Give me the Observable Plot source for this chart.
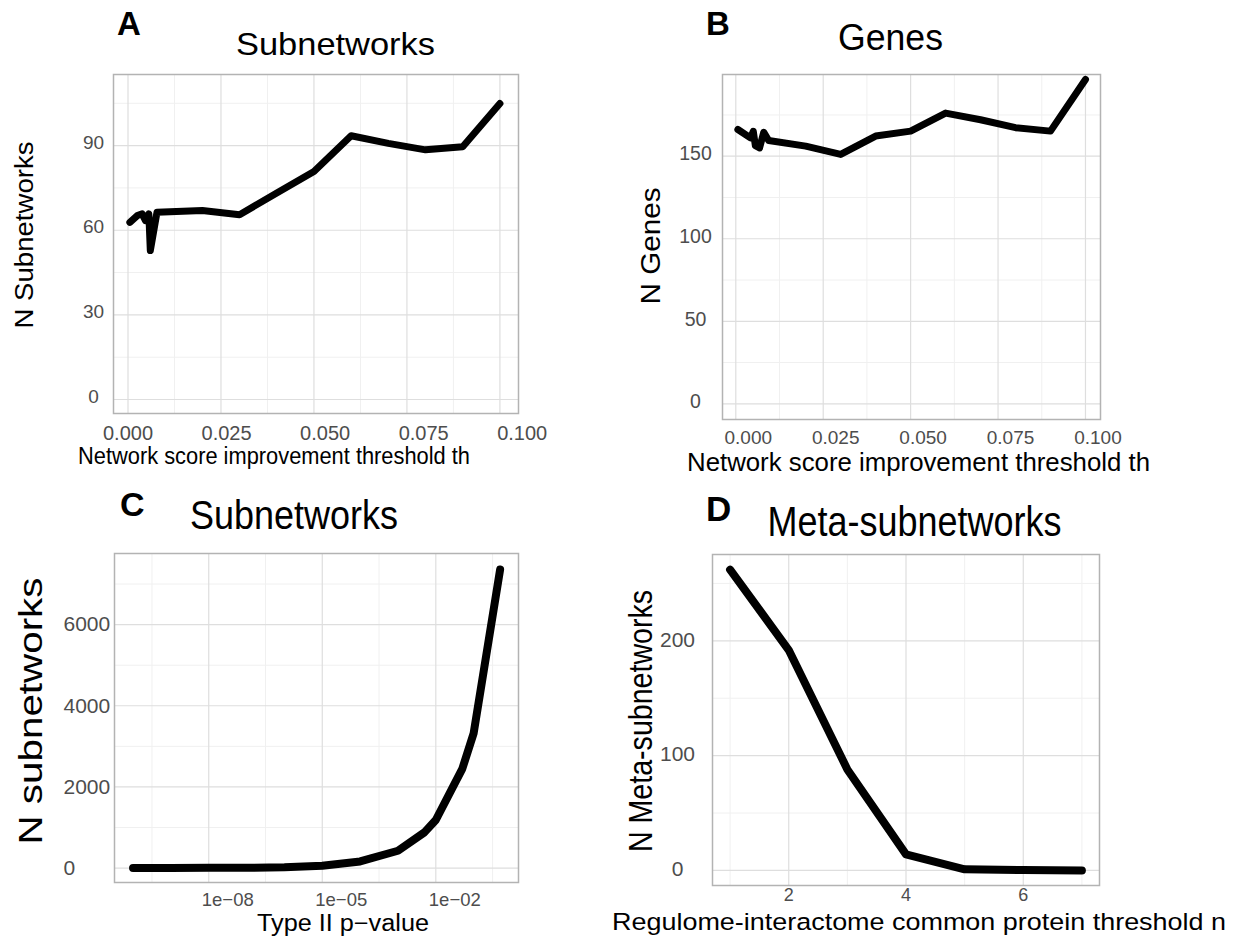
<!DOCTYPE html>
<html><head><meta charset="utf-8">
<script src="https://cdn.jsdelivr.net/npm/d3@7"></script>
<script src="https://cdn.jsdelivr.net/npm/@observablehq/plot@0.6"></script>
<style>
body{margin:0;background:#fff;}
#wrap{position:relative;width:1241px;height:936px;overflow:hidden;background:#fff;font-family:"Liberation Sans",Arial,sans-serif;}
#wrap svg.pp{position:absolute;overflow:visible;}
#overlay{position:absolute;left:0;top:0;}
</style></head><body><div id="wrap"></div>
<script>
// ---------- data ----------
// Panel A: N Subnetworks vs network score improvement threshold
const aThreshold = [0.0005,0.0025,0.0038,0.0047,0.0056,0.006,0.0078,0.02,0.03,0.04,0.05,0.06,0.07,0.08,0.09,0.1];
const aSubnetworks = [62.8,65.2,65.8,63.4,65.8,52.8,66.4,67,65.5,73.2,80.8,93.5,90.8,88.5,89.6,104.9];
// Panel B: N Genes vs threshold
const bThreshold = [0.0006,0.0042,0.005,0.0056,0.0068,0.008,0.0094,0.02,0.03,0.04,0.05,0.06,0.07,0.08,0.09,0.1];
const bGenes = [166.2,161.1,165.1,156.4,155.0,164.5,159.5,156.1,151.1,162.2,165.2,176.1,172.1,167.3,165.2,196.5];
// Panel C: N subnetworks vs Type II p-value
const cPValue = [1e-10,1e-9,1e-8,1e-7,1e-6,1e-5,1e-4,1e-3,5e-3,1e-2,5e-2,1e-1,5e-1];
const cSubnetworks = [2,3,5,8,18,55,163,427,879,1185,2444,3323,7358];
// Panel D: N Meta-subnetworks vs common protein threshold n
const dThreshold = [1,2,3,4,5,6,7];
const dMeta = [262,192,88,14,1,0.3,0];

// tick values and labels
const thrTicks = [0,0.025,0.05,0.075,0.1];
const thrTickLabels = ["0.000","0.025","0.050","0.075","0.100"];
const thrMinor = [0.0125,0.0375,0.0625,0.0875];
const aYTicks = [0,30,60,90];
const aYMinor = [15,45,75,105];
const bYTicks = [0,50,100,150];
const bYMinor = [25,75,125,175];
const cXTicks = [1e-8,1e-5,1e-2];
const cXTickLabels = ["1e\u221208","1e\u221205","1e\u221202"];
const cXMinor = [10**-9.5,10**-6.5,10**-3.5,10**-0.5];
const cYTicks = [0,2000,4000,6000];
const cYMinor = [1000,3000,5000,7000];
const dXTicks = [2,4,6];
const dXMinor = [1,3,5,7];
const dYTicks = [0,100,200];
const dYMinor = [50,150,250];

const titles = ["Subnetworks","Genes","Subnetworks","Meta-subnetworks"];
const letters = ["A","B","C","D"];
const yLabels = ["N Subnetworks","N Genes","N subnetworks","N Meta-subnetworks"];
const xLabels = ["Network score improvement threshold th","Network score improvement threshold th","Type II p\u2212value","Regulome-interactome common protein threshold n"];

// ---------- drawing ----------
const wrap = document.getElementById("wrap");
const MAJ = "#dedede", MIN = "#f0f0f0", FRAME = "#b3b3b3", TICK = "#4d4d4d";

function panel(frame, xScale, yScale, marks) {
  const [L, R, T, B] = frame;
  const svg = Plot.plot({
    width: R - L, height: B - T,
    marginLeft: 0, marginRight: 0, marginTop: 0, marginBottom: 0,
    x: {...xScale, axis: null}, y: {...yScale, axis: null},
    style: {overflow: "visible", background: "transparent", fontFamily: '"Liberation Sans", Arial, sans-serif'},
    marks
  });
  svg.classList.add("pp");
  svg.style.left = L + "px";
  svg.style.top = T + "px";
  wrap.appendChild(svg);
}

function grid(xMinor, xMajor, yMinor, yMajor) {
  return [
    Plot.ruleX(xMinor, {stroke: MIN, strokeWidth: 1}),
    Plot.ruleY(yMinor, {stroke: MIN, strokeWidth: 1}),
    Plot.ruleX(xMajor, {stroke: MAJ, strokeWidth: 1.2}),
    Plot.ruleY(yMajor, {stroke: MAJ, strokeWidth: 1.2}),
    Plot.frame({stroke: FRAME, strokeWidth: 1.5})
  ];
}
const lineStyle = w => ({stroke: "black", strokeWidth: w, strokeLinejoin: "round", strokeLinecap: "round"});

// Panel A
panel([113, 518, 74, 413],
  {domain: [-0.0039, 0.105]}, {domain: [-4.96, 115.2]},
  [
    ...grid(thrMinor, thrTicks, aYMinor, aYTicks),
    Plot.line(aThreshold.map((x, i) => ({x, y: aSubnetworks[i]})), {x: "x", y: "y", ...lineStyle(7)}),
    Plot.text(thrTicks, {x: d => d * 1.06, text: (d, i) => thrTickLabels[i], frameAnchor: "bottom", lineAnchor: "top", dy: 12, fontSize: 20, fill: TICK}),
    Plot.text(aYTicks, {y: d => d, text: d => String(d), frameAnchor: "left", textAnchor: "middle", dx: -20, dy: -3, fontSize: 19, fill: TICK})
  ]);

// Panel B
panel([722, 1100, 74, 419],
  {domain: [-0.0038, 0.1043]}, {domain: [-9.5, 199.5]},
  [
    ...grid(thrMinor, thrTicks, bYMinor, bYTicks),
    Plot.line(bThreshold.map((x, i) => ({x, y: bGenes[i]})), {x: "x", y: "y", ...lineStyle(7)}),
    Plot.text(thrTicks, {x: d => d, text: (d, i) => thrTickLabels[i], frameAnchor: "bottom", lineAnchor: "top", dx: 12.5, dy: 11, fontSize: 19, fill: TICK}),
    Plot.text(bYTicks, {y: d => d, text: d => String(d), frameAnchor: "left", textAnchor: "middle", dx: -27, dy: -2, fontSize: 19.5, fill: TICK})
  ]);

// Panel C
panel([114, 518, 553, 882],
  {type: "log", domain: [10 ** -10.49, 10 ** 0.185]}, {domain: [-356, 7753]},
  [
    ...grid(cXMinor, cXTicks, cYMinor, cYTicks),
    Plot.line(cPValue.map((x, i) => ({x, y: cSubnetworks[i]})), {x: "x", y: "y", ...lineStyle(8)}),
    Plot.text(cXTicks, {x: d => d, text: (d, i) => cXTickLabels[i], frameAnchor: "bottom", lineAnchor: "top", dx: 19, dy: 10, fontSize: 18.5, fill: TICK}),
    Plot.text(cYTicks, {y: d => d, text: d => String(d), frameAnchor: "left", textAnchor: "start", dx: -51, fontSize: 21, fill: TICK})
  ]);

// Panel D
panel([712, 1099, 554, 885],
  {domain: [0.7, 7.3]}, {domain: [-13.1, 275.2]},
  [
    ...grid(dXMinor, dXTicks, dYMinor, dYTicks),
    Plot.line(dThreshold.map((x, i) => ({x, y: dMeta[i]})), {x: "x", y: "y", ...lineStyle(8)}),
    Plot.text(dXTicks, {x: d => d, text: d => String(d), frameAnchor: "bottom", lineAnchor: "top", dy: 3, fontSize: 18, fill: TICK}),
    Plot.text(dYTicks, {y: d => d, text: d => String(d), frameAnchor: "left", textAnchor: "middle", dx: -35, dy: -1, fontSize: 21, fill: TICK})
  ]);

// ---------- overlay text (titles, letters, axis labels) ----------
const NS = "http://www.w3.org/2000/svg";
const ov = document.createElementNS(NS, "svg");
ov.setAttribute("id", "overlay");
ov.setAttribute("width", 1241);
ov.setAttribute("height", 936);
wrap.appendChild(ov);
function txt(s, o) {
  const t = document.createElementNS(NS, "text");
  t.textContent = s;
  t.setAttribute("x", o.x);
  t.setAttribute("y", o.y);
  t.setAttribute("font-size", o.size);
  t.setAttribute("font-family", '"Liberation Sans", Arial, sans-serif');
  t.setAttribute("fill", "#000");
  t.setAttribute("text-anchor", o.anchor || "middle");
  if (o.weight) t.setAttribute("font-weight", o.weight);
  if (o.length) { t.setAttribute("textLength", o.length); t.setAttribute("lengthAdjust", "spacingAndGlyphs"); }
  if (o.rotate) t.setAttribute("transform", `rotate(-90 ${o.x} ${o.y})`);
  ov.appendChild(t);
}
// letters
txt(letters[0], {x: 117, y: 35, size: 33, weight: "bold", anchor: "start"});
txt(letters[1], {x: 706, y: 35, size: 33, weight: "bold", anchor: "start"});
txt(letters[2], {x: 120, y: 516, size: 34, weight: "bold", anchor: "start"});
txt(letters[3], {x: 706, y: 521, size: 35, weight: "bold", anchor: "start"});
// titles
txt(titles[0], {x: 335.5, y: 55, size: 32, length: 199});
txt(titles[1], {x: 890.5, y: 50, size: 37, length: 105});
txt(titles[2], {x: 294, y: 529, size: 40, length: 208});
txt(titles[3], {x: 914.5, y: 535.5, size: 42, length: 294});
// y labels
txt(yLabels[0], {x: 33.3, y: 235, size: 25.6, length: 187, rotate: true});
txt(yLabels[1], {x: 660, y: 246, size: 28, length: 117, rotate: true});
txt(yLabels[2], {x: 42, y: 711, size: 33, length: 267, rotate: true});
txt(yLabels[3], {x: 652, y: 721, size: 33, length: 262, rotate: true});
// x labels
txt(xLabels[0], {x: 274, y: 464, size: 23, length: 392});
txt(xLabels[1], {x: 918.5, y: 471, size: 26, length: 463});
txt(xLabels[2], {x: 343, y: 931, size: 23, length: 172});
txt(xLabels[3], {x: 919, y: 930, size: 24.5, length: 614});
</script>
</body></html>
